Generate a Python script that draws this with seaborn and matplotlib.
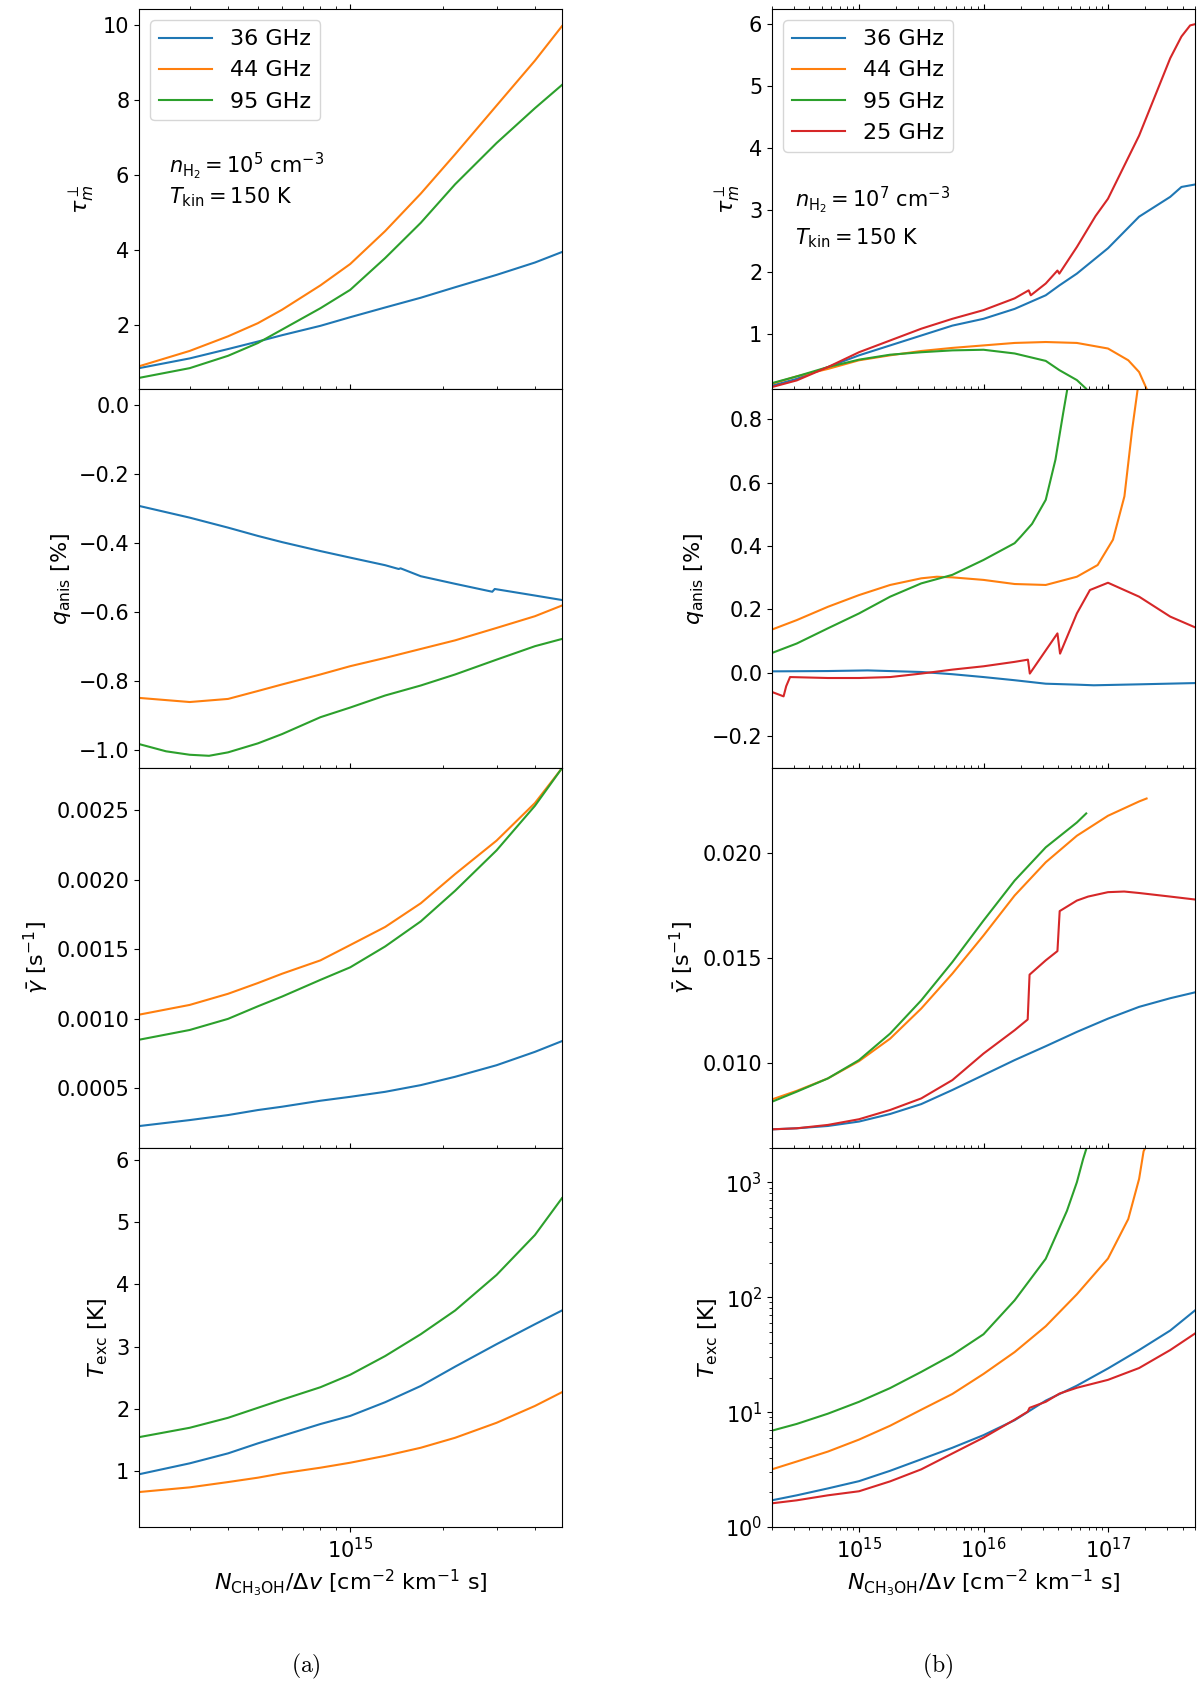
import numpy as np
import pandas as pd
import seaborn as sns
import matplotlib
matplotlib.use('Agg')
import matplotlib.pyplot as plt

# ---- data (x given as log10 N/dv) ----
names = ['36 GHz', '44 GHz', '95 GHz', '25 GHz']
colors = ['#1f77b4', '#ff7f0e', '#2ca02c', '#d62728']

# (a) n_H2 = 1e5
lg_a = [14.312, 14.477, 14.602, 14.699, 14.778, 14.903, 15.0, 15.114, 15.23, 15.342, 15.477, 15.602, 15.69]

tau36_a = [0.84, 1.10, 1.35, 1.55, 1.72, 1.97, 2.20, 2.46, 2.72, 3.00, 3.33, 3.66, 3.94]
tau44_a = [0.89, 1.30, 1.69, 2.04, 2.40, 3.05, 3.62, 4.50, 5.50, 6.55, 7.85, 9.05, 9.97]
tau95_a = [0.58, 0.84, 1.17, 1.51, 1.87, 2.44, 2.93, 3.78, 4.72, 5.75, 6.85, 7.78, 8.40]

lg_q36_a = [14.312, 14.477, 14.602, 14.699, 14.778, 14.903, 15.0, 15.114, 15.158, 15.164,
            15.23, 15.342, 15.463, 15.471, 15.602, 15.69]
q36_a = [-0.293, -0.327, -0.356, -0.380, -0.398, -0.424, -0.443, -0.465, -0.476, -0.474,
         -0.497, -0.519, -0.542, -0.534, -0.553, -0.566]
lg_q95_a = [14.312, 14.40, 14.477, 14.54, 14.602, 14.699, 14.778, 14.903, 15.0, 15.114,
            15.23, 15.342, 15.477, 15.602, 15.69]
q44_a = [-0.850, -0.862, -0.853, -0.830, -0.811, -0.782, -0.758, -0.734, -0.708, -0.683, -0.647, -0.613, -0.582]
q95_a = [-0.984, -1.005, -1.015, -1.018, -1.008, -0.982, -0.955, -0.906, -0.878, -0.843,
         -0.814, -0.782, -0.739, -0.700, -0.679]

gam36_a = [0.00023, 0.000273, 0.000309, 0.000345, 0.000369, 0.000412, 0.00044, 0.000476,
           0.000524, 0.000584, 0.000667, 0.000763, 0.00084]
gam44_a = [0.00103, 0.00110, 0.00118, 0.001257, 0.001324, 0.00142, 0.00153, 0.00166,
           0.00183, 0.00204, 0.00228, 0.00255, 0.00280]
gam95_a = [0.00085, 0.00092, 0.00100, 0.00109, 0.00116, 0.00128, 0.00137, 0.00152,
           0.00170, 0.00192, 0.00221, 0.00253, 0.00280]

tex36_a = [0.955, 1.13, 1.29, 1.45, 1.57, 1.76, 1.89, 2.11, 2.37, 2.68, 3.04, 3.36, 3.58]
tex44_a = [0.67, 0.745, 0.83, 0.90, 0.97, 1.06, 1.14, 1.25, 1.38, 1.54, 1.78, 2.05, 2.27]
tex95_a = [1.55, 1.70, 1.86, 2.02, 2.15, 2.35, 2.55, 2.85, 3.20, 3.58, 4.15, 4.79, 5.38]

# (b) n_H2 = 1e7
lg_b = [14.3, 14.5, 14.75, 15.0, 15.25, 15.5, 15.75, 16.0, 16.25, 16.5, 16.75, 17.0, 17.25, 17.5, 17.7]

lg_tau36_b = [14.3, 14.5, 14.75, 15.0, 15.25, 15.5, 15.75, 16.0, 16.25, 16.5, 16.61, 16.75, 17.0, 17.25, 17.5, 17.59, 17.7]
tau36_b = [0.16, 0.27, 0.46, 0.65, 0.81, 0.97, 1.13, 1.24, 1.40, 1.62, 1.78, 1.97, 2.38, 2.89, 3.21, 3.37, 3.41]
lg_tau44_b = [14.3, 14.5, 14.75, 15.0, 15.25, 15.5, 15.75, 16.0, 16.25, 16.5, 16.75, 17.0, 17.163, 17.25, 17.31, 17.35]
tau44_b = [0.19, 0.31, 0.43, 0.57, 0.65, 0.72, 0.77, 0.81, 0.85, 0.865, 0.85, 0.76, 0.57, 0.38, 0.11, -0.15]
lg_tau95_b = [14.3, 14.5, 14.75, 15.0, 15.25, 15.5, 15.75, 16.0, 16.25, 16.5, 16.61, 16.75, 16.825, 16.87]
tau95_b = [0.20, 0.31, 0.46, 0.58, 0.66, 0.70, 0.73, 0.74, 0.68, 0.56, 0.41, 0.25, 0.11, -0.10]
lg_tau25_b = [14.3, 14.5, 14.75, 15.0, 15.25, 15.5, 15.75, 16.0, 16.25, 16.363, 16.38, 16.5, 16.594, 16.609,
              16.75, 16.90, 17.0, 17.25, 17.5, 17.59, 17.66, 17.7]
tau25_b = [0.137, 0.245, 0.46, 0.70, 0.89, 1.08, 1.24, 1.38, 1.57, 1.70, 1.62, 1.81, 2.02, 1.97,
           2.40, 2.90, 3.18, 4.20, 5.45, 5.80, 5.98, 6.00]

lg_q36_b = [14.3, 14.75, 15.07, 15.5, 15.75, 16.0, 16.25, 16.5, 16.75, 16.886, 17.25, 17.7]
q36_b = [0.004, 0.005, 0.007, 0.002, -0.005, -0.014, -0.024, -0.035, -0.038, -0.040, -0.037, -0.033]
lg_q44_b = [14.3, 14.5, 14.75, 15.0, 15.25, 15.5, 15.625, 15.75, 16.0, 16.25, 16.5, 16.75, 16.917,
            17.04, 17.132, 17.194, 17.24, 17.26]
q44_b = [0.136, 0.166, 0.208, 0.245, 0.277, 0.298, 0.303, 0.301, 0.293, 0.280, 0.277, 0.303, 0.340,
         0.420, 0.557, 0.768, 0.900, 1.000]
lg_q95_b = [14.3, 14.5, 14.75, 15.0, 15.25, 15.5, 15.75, 16.0, 16.25, 16.30, 16.39, 16.5, 16.578,
            16.64, 16.675, 16.70]
q95_b = [0.062, 0.092, 0.140, 0.187, 0.240, 0.282, 0.309, 0.356, 0.409, 0.430, 0.470, 0.546, 0.673,
         0.820, 0.900, 1.000]
lg_q25_b = [14.3, 14.394, 14.415, 14.446, 14.75, 15.0, 15.25, 15.5, 15.75, 16.0, 16.25, 16.357, 16.372,
            16.594, 16.615, 16.75, 16.855, 17.0, 17.25, 17.5, 17.7]
q25_b = [-0.061, -0.075, -0.043, -0.014, -0.017, -0.017, -0.014, -0.003, 0.0095, 0.020, 0.034, 0.041, -0.003,
         0.124, 0.060, 0.187, 0.261, 0.284, 0.240, 0.177, 0.143]

gam36_b = [0.00687, 0.00692, 0.00703, 0.00724, 0.00760, 0.00807, 0.00874, 0.00945, 0.01016,
           0.01082, 0.01150, 0.01213, 0.01269, 0.01310, 0.01338]
lg_gam44_b = [14.3, 14.5, 14.75, 15.0, 15.25, 15.5, 15.75, 16.0, 16.25, 16.5, 16.75, 17.0, 17.25, 17.31]
gam44_b = [0.00829, 0.00870, 0.00929, 0.01011, 0.01118, 0.01261, 0.01427, 0.01608, 0.01798, 0.01956,
           0.02082, 0.02177, 0.02245, 0.02259]
lg_gam95_b = [14.3, 14.5, 14.75, 15.0, 15.25, 15.5, 15.75, 16.0, 16.25, 16.5, 16.75, 16.825]
gam95_b = [0.00818, 0.00866, 0.00929, 0.01016, 0.01142, 0.01300, 0.01482, 0.01679, 0.01869, 0.02027,
           0.02145, 0.02188]
lg_gam25_b = [14.3, 14.5, 14.75, 15.0, 15.25, 15.5, 15.75, 16.0, 16.25, 16.355, 16.37, 16.5, 16.594,
              16.612, 16.75, 16.84, 17.0, 17.13, 17.25, 17.5, 17.7]
gam25_b = [0.00687, 0.00692, 0.00708, 0.00735, 0.00779, 0.00834, 0.00921, 0.01047, 0.01158, 0.01209,
           0.01422, 0.01490, 0.01534, 0.01724, 0.01774, 0.01793, 0.01814, 0.01817, 0.01810, 0.01793, 0.01779]

tex36_b = [1.71, 1.89, 2.17, 2.51, 3.09, 3.89, 4.90, 6.31, 8.51, 12.6, 17.0, 24.0, 34.7, 51.3, 76.9]
lg_tex44_b = [14.3, 14.5, 14.75, 15.0, 15.25, 15.5, 15.75, 16.0, 16.25, 16.5, 16.75, 17.0, 17.163,
              17.25, 17.286, 17.31]
tex44_b = [3.18, 3.72, 4.54, 5.77, 7.62, 10.5, 14.4, 21.5, 33.3, 55.9, 106, 217, 479, 1070, 1860, 2100]
lg_tex95_b = [14.3, 14.5, 14.75, 15.0, 15.25, 15.5, 15.75, 16.0, 16.25, 16.5, 16.67, 16.75, 16.80, 16.825]
tex95_b = [6.9, 7.9, 9.7, 12.3, 16.2, 22.4, 31.5, 47.6, 93.9, 216, 563, 1000, 1588, 1940]
lg_tex25_b = [14.3, 14.5, 14.75, 15.0, 15.25, 15.5, 15.75, 16.0, 16.25, 16.355, 16.37, 16.5, 16.61,
              16.75, 17.0, 17.25, 17.5, 17.7]
tex25_b = [1.61, 1.71, 1.89, 2.05, 2.50, 3.18, 4.37, 6.00, 8.60, 10.1, 10.9, 12.3, 14.5,
           16.3, 19.1, 24.2, 34.7, 48.4]

ylabels = [r'$\tau^{\perp}_{m}$', r'$q_{\rm anis}$ [%]', r'$\bar{\gamma}$ [s$^{-1}$]', r'$T_{\rm exc}$ [K]']
xlabel = r'$N_{\rm CH_3OH}/\Delta v$ [cm$^{-2}$ km$^{-1}$ s]'

panels_a = [
    [(names[0], lg_a, tau36_a), (names[1], lg_a, tau44_a), (names[2], lg_a, tau95_a)],
    [(names[0], lg_q36_a, q36_a), (names[1], lg_a, q44_a), (names[2], lg_q95_a, q95_a)],
    [(names[0], lg_a, gam36_a), (names[1], lg_a, gam44_a), (names[2], lg_a, gam95_a)],
    [(names[0], lg_a, tex36_a), (names[1], lg_a, tex44_a), (names[2], lg_a, tex95_a)],
]
panels_b = [
    [(names[0], lg_tau36_b, tau36_b), (names[1], lg_tau44_b, tau44_b),
     (names[2], lg_tau95_b, tau95_b), (names[3], lg_tau25_b, tau25_b)],
    [(names[0], lg_q36_b, q36_b), (names[1], lg_q44_b, q44_b),
     (names[2], lg_q95_b, q95_b), (names[3], lg_q25_b, q25_b)],
    [(names[0], lg_b, gam36_b), (names[1], lg_gam44_b, gam44_b),
     (names[2], lg_gam95_b, gam95_b), (names[3], lg_gam25_b, gam25_b)],
    [(names[0], lg_b, tex36_b), (names[1], lg_tex44_b, tex44_b),
     (names[2], lg_tex95_b, tex95_b), (names[3], lg_tex25_b, tex25_b)],
]

ylims_a = [(0.29, 10.42), (-1.054, 0.047), (0.000075, 0.0028), (0.108, 6.19)]
ylims_b = [(0.11, 6.24), (-0.302, 0.897), (0.0060, 0.02403), (1.0, 2000)]
xlim_a = (2.05e14, 4.9e15)
xlim_b = (2.0e14, 5.0e17)


def draw_panel(ax, series):
    frames = [pd.DataFrame({'N': np.power(10.0, lg), 'val': v, 'line': n}) for n, lg, v in series]
    df = pd.concat(frames, ignore_index=True)
    order = [s[0] for s in series]
    sns.lineplot(data=df, x='N', y='val', hue='line', hue_order=order,
                 palette=colors[:len(order)], estimator=None, sort=False,
                 lw=1.5, ax=ax)


fig = plt.figure(figsize=(12, 16.82), dpi=100)
W, H = 1200.0, 1682.0
col_left = [139, 772]
col_w = 423
top0 = 9.3
ph = 379.45

for c, (panels, ylims, xlim) in enumerate([(panels_a, ylims_a, xlim_a), (panels_b, ylims_b, xlim_b)]):
    for i in range(4):
        bottom_px = top0 + (i + 1) * ph
        ax = fig.add_axes([col_left[c] / W, 1 - bottom_px / H, col_w / W, ph / H])
        draw_panel(ax, panels[i])
        ax.set_xscale('log')
        ax.set_xlim(*xlim)
        if c == 1 and i == 3:
            ax.set_yscale('log')
        ax.set_ylim(*ylims[i])
        if c == 1 and i == 2:
            ax.set_yticks([0.010, 0.015, 0.020])
        ax.tick_params(axis='x', which='both', top=True, direction='out',
                       labelbottom=(i == 3))
        ax.tick_params(axis='both', labelsize=15)
        ax.set_ylabel(ylabels[i], fontsize=16)
        if i == 3:
            ax.set_xlabel(xlabel, fontsize=16)
        else:
            ax.set_xlabel('')
        if i == 0:
            h, l = ax.get_legend_handles_labels()
            ax.legend(h, l, loc='upper left', fontsize=16, handlelength=2.4)
            dens = '5' if c == 0 else '7'
            tx = 0.07 if c == 0 else 0.055
            ty = (0.585, 0.506) if c == 0 else (0.497, 0.396)
            ax.text(tx, ty[0], r'$n_{\rm H_2} = 10^{%s}$ cm$^{-3}$' % dens,
                    transform=ax.transAxes, fontsize=15, va='center', ha='left')
            ax.text(tx, ty[1], r'$T_{\rm kin} = 150$ K',
                    transform=ax.transAxes, fontsize=15, va='center', ha='left')
        else:
            ax.get_legend().remove()

fig.text(306 / W, 1 - 1666 / H, r'$\mathrm{(a)}$', math_fontfamily='cm',
         ha='center', va='center', fontsize=17)
fig.text(938 / W, 1 - 1666 / H, r'$\mathrm{(b)}$', math_fontfamily='cm',
         ha='center', va='center', fontsize=17)

fig.savefig('out.png', dpi=100)
